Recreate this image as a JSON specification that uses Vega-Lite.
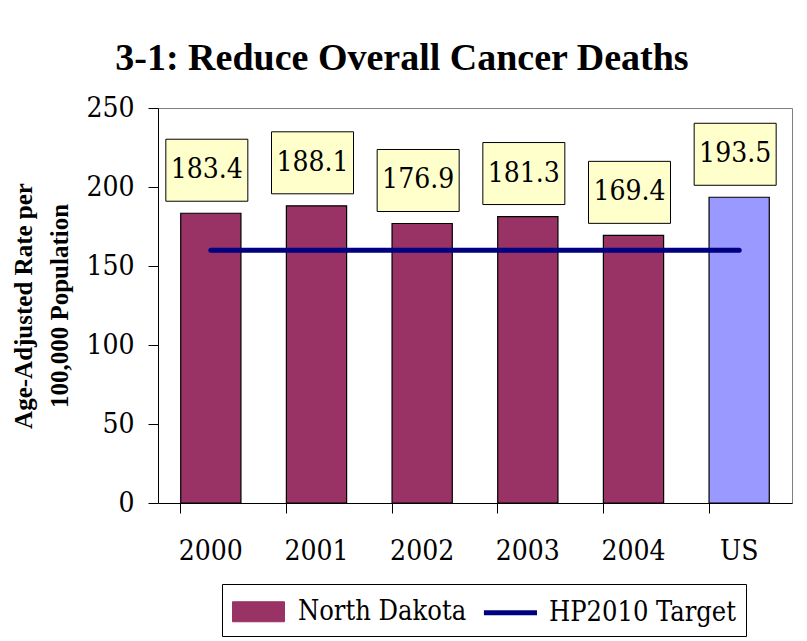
{
  "$schema": "https://vega.github.io/schema/vega-lite/v6.json",
  "width": 634,
  "height": 395,
  "autosize": {"type": "none"},
  "padding": {"left": 158, "top": 108, "right": 15, "bottom": 138},
  "background": "white",
  "title": {
    "text": "3-1: Reduce Overall Cancer Deaths",
    "font": "Liberation Serif",
    "fontSize": 38,
    "fontWeight": "bold",
    "color": "black",
    "anchor": "middle",
    "frame": "bounds",
    "baseline": "alphabetic",
    "offset": -14
  },
  "config": {
    "view": {"stroke": "#808080", "strokeWidth": 1},
    "axis": {
      "domainColor": "black",
      "tickColor": "black",
      "labelColor": "black",
      "titleColor": "black",
      "labelFont": "DejaVu Serif Condensed, DejaVu Serif",
      "titleFont": "Liberation Serif",
      "grid": false
    }
  },
  "data": {
    "values": [
      {"category": "2000", "value": 183.4, "group": "North Dakota", "target": 160},
      {"category": "2001", "value": 188.1, "group": "North Dakota", "target": 160},
      {"category": "2002", "value": 176.9, "group": "North Dakota", "target": 160},
      {"category": "2003", "value": 181.3, "group": "North Dakota", "target": 160},
      {"category": "2004", "value": 169.4, "group": "North Dakota", "target": 160},
      {"category": "US", "value": 193.5, "group": "US", "target": 160}
    ]
  },
  "encoding": {
    "x": {
      "field": "category",
      "type": "nominal",
      "sort": null,
      "scale": {"paddingInner": 0.43, "paddingOuter": 0.215},
      "axis": {
        "title": null,
        "labelAngle": 0,
        "labelFontSize": 28,
        "labelPadding": 24,
        "tickSize": 10,
        "bandPosition": 0
      }
    }
  },
  "layer": [
    {
      "mark": {"type": "bar", "stroke": "black", "strokeWidth": 1.2},
      "encoding": {
        "y": {
          "field": "value",
          "type": "quantitative",
          "scale": {"domain": [0, 250], "nice": false},
          "axis": {
            "values": [0, 50, 100, 150, 200, 250],
            "tickSize": 10,
            "labelFontSize": 28,
            "labelPadding": 14,
            "title": ["Age-Adjusted Rate per", "100,000 Population"],
            "titleFontSize": 25,
            "titleFontWeight": "bold",
            "titleLineHeight": 36,
            "titlePadding": 13
          }
        },
        "color": {
          "field": "group",
          "type": "nominal",
          "scale": {
            "domain": ["North Dakota", "US", "HP2010 Target"],
            "range": ["#993366", "#9999FF", "#000080"]
          },
          "legend": {
            "values": ["North Dakota", "HP2010 Target"],
            "title": null,
            "orient": "none",
            "legendX": 64,
            "legendY": 476,
            "direction": "horizontal",
            "strokeColor": "black",
            "fillColor": "white",
            "padding": 10,
            "labelFont": "DejaVu Serif Condensed, DejaVu Serif",
            "labelFontSize": 27,
            "labelColor": "black",
            "labelOffset": 33,
            "labelLimit": 400,
            "columnPadding": 6,
            "symbolSize": 1024
          }
        }
      }
    },
    {
      "mark": {"type": "bar", "width": 82, "xOffset": -4, "yOffset": -74, "y2Offset": -12, "fill": "#FFFFCC", "stroke": "black", "strokeWidth": 1},
      "encoding": {
        "y": {"field": "value", "type": "quantitative"},
        "y2": {"field": "value"}
      }
    },
    {
      "mark": {"type": "text", "font": "DejaVu Serif Condensed, DejaVu Serif", "fontSize": 28, "color": "black", "baseline": "middle", "align": "center", "yOffset": -43, "xOffset": -4},
      "encoding": {
        "y": {"field": "value", "type": "quantitative"},
        "text": {"field": "value", "type": "quantitative", "format": ".1f"}
      }
    },
    {
      "mark": {"type": "line", "strokeWidth": 5, "strokeCap": "round"},
      "encoding": {
        "y": {"field": "target", "type": "quantitative"},
        "color": {"datum": "HP2010 Target"}
      }
    },
    {
      "transform": [{"filter": "datum.value < 0"}],
      "mark": {"type": "point", "filled": true},
      "encoding": {
        "y": {"field": "value", "type": "quantitative"},
        "color": {"field": "group", "type": "nominal"},
        "shape": {
          "field": "group",
          "type": "nominal",
          "scale": {
            "domain": ["North Dakota", "US", "HP2010 Target"],
            "range": ["M-1,-0.625H2.25V0.625H-1Z", "M-1,-0.625H2.25V0.625H-1Z", "M-0.85,0H2.47"]
          }
        },
        "stroke": {
          "field": "group",
          "type": "nominal",
          "scale": {
            "domain": ["North Dakota", "US", "HP2010 Target"],
            "range": ["black", "black", "#000080"]
          }
        },
        "strokeWidth": {
          "field": "group",
          "type": "nominal",
          "scale": {
            "type": "point",
            "domain": ["North Dakota", "US", "HP2010 Target"],
            "range": [1, 5]
          }
        }
      }
    }
  ]
}
